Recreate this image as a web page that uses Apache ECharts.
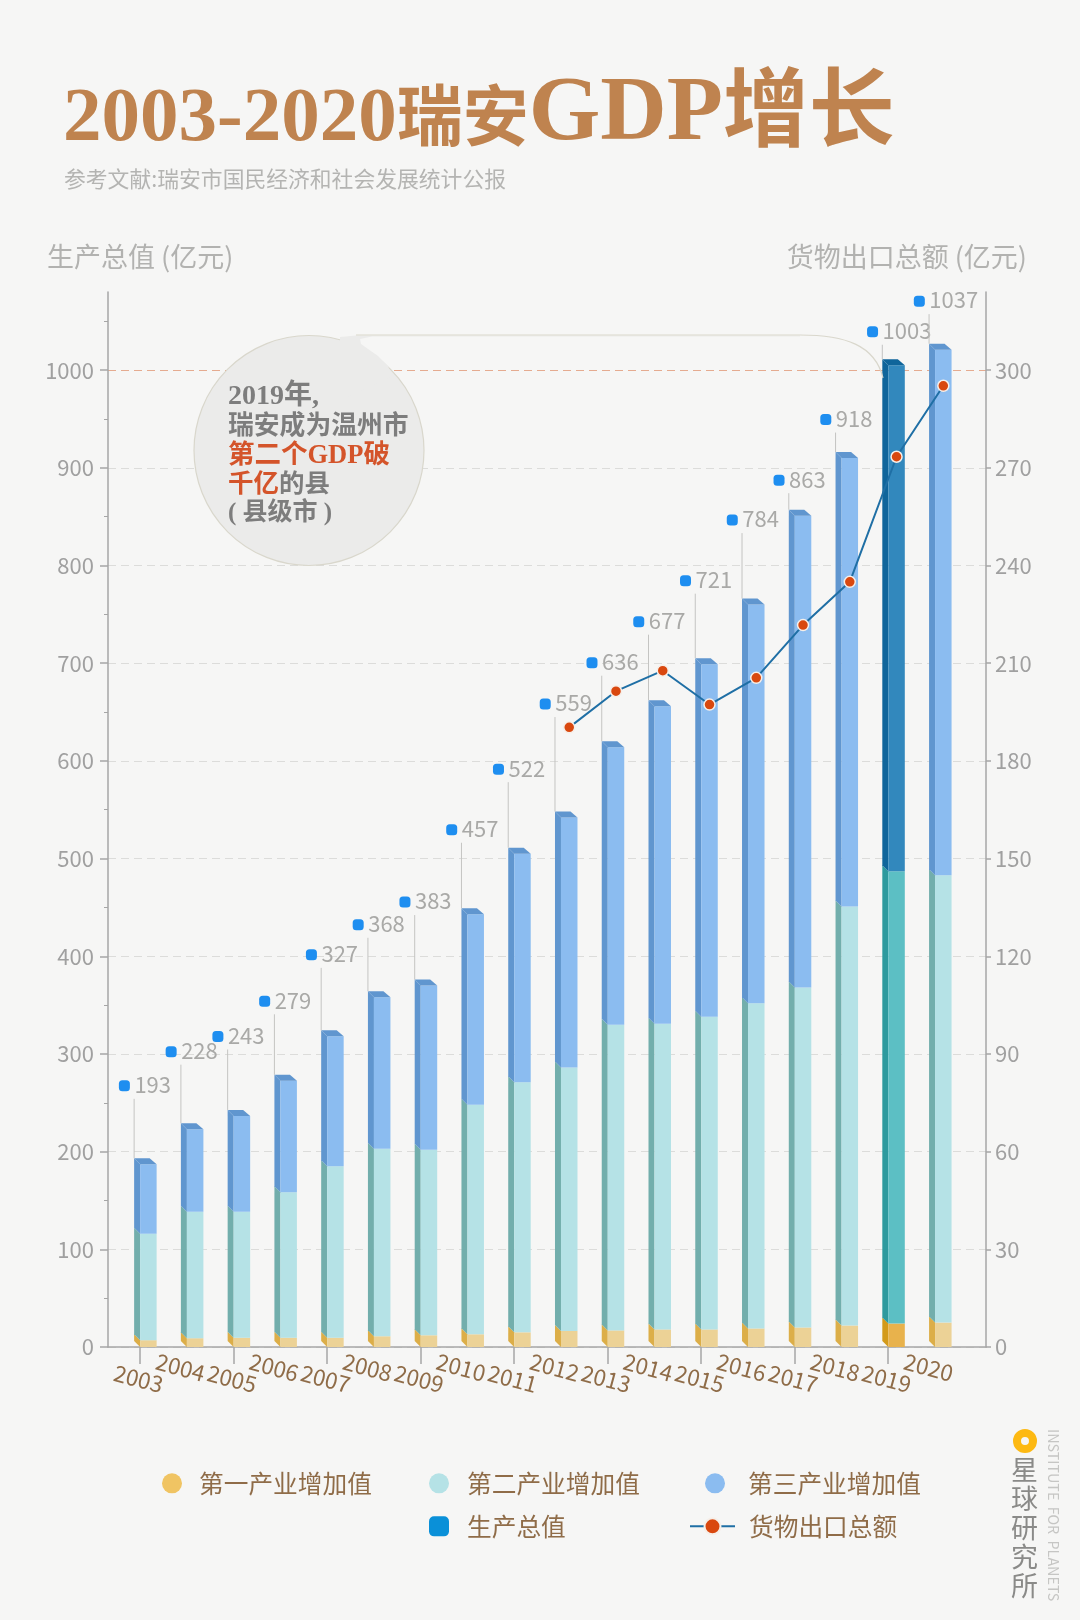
<!DOCTYPE html>
<html><head><meta charset="utf-8">
<style>html,body{margin:0;padding:0;background:#f6f6f5}#c{width:1080px;height:1620px}</style>
<script src="https://cdn.jsdelivr.net/npm/echarts@6/dist/echarts.min.js"></script>
</head><body><div id="c"></div>
<script>
const years=['2003','2004','2005','2006','2007','2008','2009','2010','2011','2012','2013','2014','2015','2016','2017','2018','2019','2020'];
const primaryIndustry=[7,9,9.5,9.5,9.5,11,12,13,15,16.5,17,18,18,19,20,22,24,25];
const secondaryIndustry=[109,129.5,129,149,175.5,192,190,235,256,269.5,313,313,320,333,348,429,463,458];
const tertiaryIndustry=[71,84.5,98,114,133,155,168,195,234,256,284,325,361,408,483,459,518,538];
const gdpTotal=[193,228,243,279,327,368,383,457,522,559,636,677,721,784,863,918,1003,1037];
const exportsTotal=[null,null,null,null,null,null,null,null,null,190.3,201.4,207.7,197.3,205.5,221.7,235,273.4,295.2];
const leftTicks=[0,100,200,300,400,500,600,700,800,900,1000];
const rightTicks=[0,30,60,90,120,150,180,210,240,270,300];
// layout only: how far (px) each total label floats above its bar
const labelRise=[72.5,71.5,73.5,73.5,75.5,66.5,77.5,78.5,78.5,107.5,78.5,78.5,77.5,78.5,29.5,32.5,27.5,42.5];

const SANS='"Noto Sans CJK SC","Noto Sans",sans-serif';
const SERIF='"Liberation Serif","Noto Sans CJK SC",serif';
const FOCUS=16;
const palette={
 a:{front:'#ecd296',side:'#dcae48',frontHi:'#e8b24c',sideHi:'#d39a1a'},
 b:{front:'#b5e2e6',side:'#72aeac',frontHi:'#5cbfc4',sideHi:'#2d9a9e'},
 c:{front:'#8bbcf0',side:'#6096cf',frontHi:'#3288bd',sideHi:'#0f659b'}
};
const FW=16.5,SD=6;
function cum(arrs){return years.map((_,i)=>arrs.reduce((s,a)=>s+a[i],0));}
const base1=years.map(()=>0),base2=cum([primaryIndustry]),base3=cum([primaryIndustry,secondaryIndustry]),stackTop=cum([primaryIndustry,secondaryIndustry,tertiaryIndustry]);

function seg(pal,isTop){return function(params,api){
  const i=params.dataIndex,h=i===FOCUS;
  const pB=api.coord([api.value(0),api.value(1)]),pT=api.coord([api.value(0),api.value(2)]);
  const x0=pB[0]-FW/2,yb=pB[1],yt=pT[1];
  const f=h?pal.frontHi:pal.front,s=h?pal.sideHi:pal.side;
  const kids=[
   {type:'polygon',shape:{points:[[x0,yb],[x0-SD,yb-SD],[x0-SD,yt-SD],[x0,yt]]},style:{fill:s}},
   {type:'rect',shape:{x:x0,y:yt,width:FW,height:yb-yt},style:{fill:f}}
  ];
  if(isTop)kids.push({type:'polygon',shape:{points:[[x0-SD,yt-SD],[x0+FW-SD-1,yt-SD],[x0+FW,yt],[x0,yt]]},style:{fill:s}});
  return {type:'group',children:kids};
};}
function segSeries(name,pal,base,vals,isTop){return {
  name,type:'custom',xAxisIndex:1,yAxisIndex:2,z:3,
  itemStyle:{color:pal.front},
  encode:{x:0,y:2},
  data:years.map((_,i)=>[i,base[i],base[i]+vals[i]]),
  renderItem:seg(pal,isTop),silent:true
};}
function legendItem(name,left,top,color,icon,w,h,pad){return {
  left,top,orient:'horizontal',selectedMode:false,itemWidth:w,itemHeight:h,icon,
  data:[{name,itemStyle:color?{color}:undefined}],
  textStyle:{color:'#8f6c48',fontSize:24.7,fontFamily:SANS,padding:[0,0,0,pad]}
};}
const gridBox=(left,right)=>({left,right,top:292,bottom:273});
const hiddenY=(gridIndex,max)=>({type:'value',gridIndex,min:0,max,show:false});
const tickX=(show)=>({
  type:'category',gridIndex:2,data:years,position:'bottom',
  axisLine:{show:false},
  axisTick:{show,alignWithLabel:true,length:17,interval:(i)=>i%2===0,lineStyle:{color:'#a6a6a6',width:1.5}},
  splitLine:{show:false}
});
const G='#dcdcda';
const chart=echarts.init(document.getElementById('c'),null,{renderer:'canvas'});
chart.setOption({
 animation:false,backgroundColor:'#f6f6f5',
 textStyle:{fontFamily:SANS},
 title:[{
  left:63,top:61,padding:0,
  text:'{a|2003-2020}{b|瑞安}{c|GDP}{d|增长}',
  textStyle:{rich:{
   a:{fontFamily:SERIF,fontWeight:'bold',fontSize:77,color:'#bf834f',verticalAlign:'bottom',lineHeight:100,padding:[0,0,2,0]},
   b:{fontFamily:SANS,fontWeight:'bold',fontSize:66,color:'#bf834f',verticalAlign:'bottom',lineHeight:100,padding:[0,0,13,0]},
   c:{fontFamily:SERIF,fontWeight:'bold',fontSize:92,color:'#bf834f',verticalAlign:'bottom',lineHeight:100},
   d:{fontFamily:SANS,fontWeight:'bold',fontSize:86,color:'#bf834f',verticalAlign:'bottom',lineHeight:100,padding:[0,0,11,0]}
  }}
 },{
  left:64,top:168,padding:0,text:'参考文献:瑞安市国民经济和社会发展统计公报',
  textStyle:{fontFamily:SANS,fontSize:21.8,fontWeight:'normal',color:'#b4b4b2'}
 }],
 grid:[gridBox(108,94),gridBox(125,113.3),gridBox(116.6,121.7)],
 xAxis:[
  {type:'value',gridIndex:0,min:0,max:1,axisLabel:{show:false},axisTick:{show:false},splitLine:{show:false},axisLine:{show:true,onZero:false,lineStyle:{color:'#a6a6a6',width:1.5}}},
  {type:'category',gridIndex:1,data:years,show:false},
  Object.assign(tickX(true),{axisLabel:{show:true,interval:(i)=>i%2===0,rotate:-15,align:'center',verticalAlign:'middle',margin:32,padding:[0,3,0,0],color:'#8f6c48',fontSize:22.5,fontFamily:SANS}}),
  Object.assign(tickX(false),{axisLabel:{show:true,interval:(i)=>i%2===1,rotate:-15,align:'center',verticalAlign:'middle',margin:22,padding:[0,13,0,0],color:'#8f6c48',fontSize:22.5,fontFamily:SANS}})
 ],
 yAxis:[
  {type:'value',gridIndex:0,position:'left',min:0,max:1080,interval:100,
   name:'生产总值 (亿元)',nameLocation:'end',nameGap:22,nameTextStyle:{color:'#b2b2b0',fontSize:27,align:'left',padding:[0,0,0,-61]},
   axisLine:{show:true,onZero:false,lineStyle:{color:'#a6a6a6',width:1.5}},
   axisTick:{show:true,length:8,customValues:leftTicks,lineStyle:{color:'#a6a6a6',width:1.5}},
   minorTick:{show:true,splitNumber:2,length:4,lineStyle:{color:'#a6a6a6',width:1}},
   axisLabel:{customValues:leftTicks,formatter:(v)=>String(v),color:'#a0a0a0',fontSize:22,margin:14},
   splitLine:{show:true,showMaxLine:true,showMinLine:true,lineStyle:{type:[8,5],width:1,color:[G,G,G,G,G,G,G,G,G,G,'#e5ab90','rgba(0,0,0,0)']}}
  },
  {type:'value',gridIndex:0,position:'right',min:0,max:324,interval:30,
   name:'货物出口总额 (亿元)',nameLocation:'end',nameGap:22,nameTextStyle:{color:'#b2b2b0',fontSize:27,align:'right',padding:[0,-41,0,0]},
   axisLine:{show:true,onZero:false,lineStyle:{color:'#a6a6a6',width:1.5}},
   axisTick:{show:true,length:5,customValues:rightTicks,lineStyle:{color:'#a6a6a6',width:1.5}},
   axisLabel:{customValues:rightTicks,color:'#a0a0a0',fontSize:22,margin:9},
   splitLine:{show:false}
  },
  hiddenY(1,1080),hiddenY(1,324),hiddenY(2,1080)
 ],
 legend:[
  legendItem('第一产业增加值',157,1466,'#f0c463','circle',20,20,12),
  legendItem('第二产业增加值',424,1466,'#b5e2e6','circle',20,20,13),
  legendItem('第三产业增加值',700,1466,'#8bbcf0','circle',20,20,18),
  legendItem('生产总值',424,1509,'#0a90d8','roundRect',20,20,13),
  legendItem('货物出口总额',684,1509,null,undefined,45,20,9)
 ],
 series:[
  segSeries('第一产业增加值',palette.a,base1,primaryIndustry,false),
  segSeries('第二产业增加值',palette.b,base2,secondaryIndustry,false),
  segSeries('第三产业增加值',palette.c,base3,tertiaryIndustry,true),
  {name:'生产总值',type:'custom',xAxisIndex:1,yAxisIndex:2,z:4,silent:true,
   itemStyle:{color:'#1e8ef0'},encode:{x:0,y:1},
   data:years.map((_,i)=>[i,stackTop[i],gdpTotal[i]]),
   renderItem(params,api){
    const i=params.dataIndex;
    const p=api.coord([api.value(0),api.value(1)]);
    const yTop=p[1]-SD,xLeft=p[0]-FW/2-SD,my=yTop-labelRise[i],mx=p[0]-24;
    return {type:'group',children:[
     {type:'line',shape:{x1:xLeft,y1:my+13,x2:xLeft,y2:yTop},style:{stroke:'#c4c4c2',lineWidth:1}},
     {type:'rect',shape:{x:mx-5.5,y:my-5.5,width:11,height:11,r:3.5},style:{fill:'#1e8ef0'}},
     {type:'text',style:{x:mx+10,y:my-1,text:String(api.value(2)),fill:'#a9a9a7',font:'22px '+SANS,align:'left',verticalAlign:'middle'}}
    ]};
   }
  },
  {name:'货物出口总额',type:'line',xAxisIndex:1,yAxisIndex:3,z:6,silent:true,
   data:exportsTotal,connectNulls:false,symbol:'circle',symbolSize:11,showSymbol:true,
   lineStyle:{color:'#1f6fa5',width:2},
   itemStyle:{color:'#d9480f',borderColor:'#f6efe9',borderWidth:1.5}
  }
 ],
 graphic:[
  {type:'circle',z:10,shape:{cx:309,cy:450.5,r:115},style:{fill:'#ebebea',stroke:'#d9d7cc',lineWidth:1.2}},
  {type:'polygon',z:10,shape:{points:[[340,337],[356,335.5],[800,335.5],[800,336.5],[372,336.5],[360,339],[361,344],[368,349],[378,356],[388,366],[392,376],[340,400]]},style:{fill:'#ebebea'}},
  {type:'line',z:11,shape:{x1:356,y1:335,x2:800,y2:335},style:{stroke:'#d9d7cc',lineWidth:1.2}},
  {type:'bezierCurve',z:11,shape:{x1:800,y1:335,x2:883,y2:378,cpx1:845,cpy1:335,cpx2:875,cpy2:345},style:{fill:null,stroke:'#d9d7cc',lineWidth:1.2}},
  {type:'text',z:12,left:228,top:383,style:{text:'2019年,',fill:'#7d7d7d',font:'bold 28px '+SERIF}},
  {type:'text',z:12,left:228,top:414,style:{text:'瑞安成为温州市',fill:'#7d7d7d',font:'bold 25.8px '+SERIF}},
  {type:'text',z:12,left:228,top:443,style:{text:'第二个GDP破',fill:'#d4542a',font:'bold 26.5px '+SERIF}},
  {type:'text',z:12,left:228,top:473,style:{text:'{r|千亿}{g|的县}',rich:{r:{fill:'#d4542a',font:'bold 25.5px '+SERIF},g:{fill:'#7d7d7d',font:'bold 25.5px '+SERIF}}}},
  {type:'text',z:12,left:228,top:501,style:{text:'( 县级市 )',fill:'#7d7d7d',font:'bold 25px '+SERIF}},
  {type:'circle',z:10,shape:{cx:1025,cy:1441,r:8},style:{fill:'#f6f6f5',stroke:'#fdb912',lineWidth:8}},
  {type:'text',z:10,left:1011,top:1455,style:{text:'星\n球\n研\n究\n所',fill:'#8a8a88',font:'27px '+SANS,lineHeight:29,align:'left'}},
  {type:'text',z:10,x:1061,y:1429,rotation:-Math.PI/2,style:{text:'INSTITUTE  FOR  PLANETS',fill:'#c6c6c4',font:'14.3px '+SANS,align:'left',verticalAlign:'top'}}
 ]
});
</script></body></html>
